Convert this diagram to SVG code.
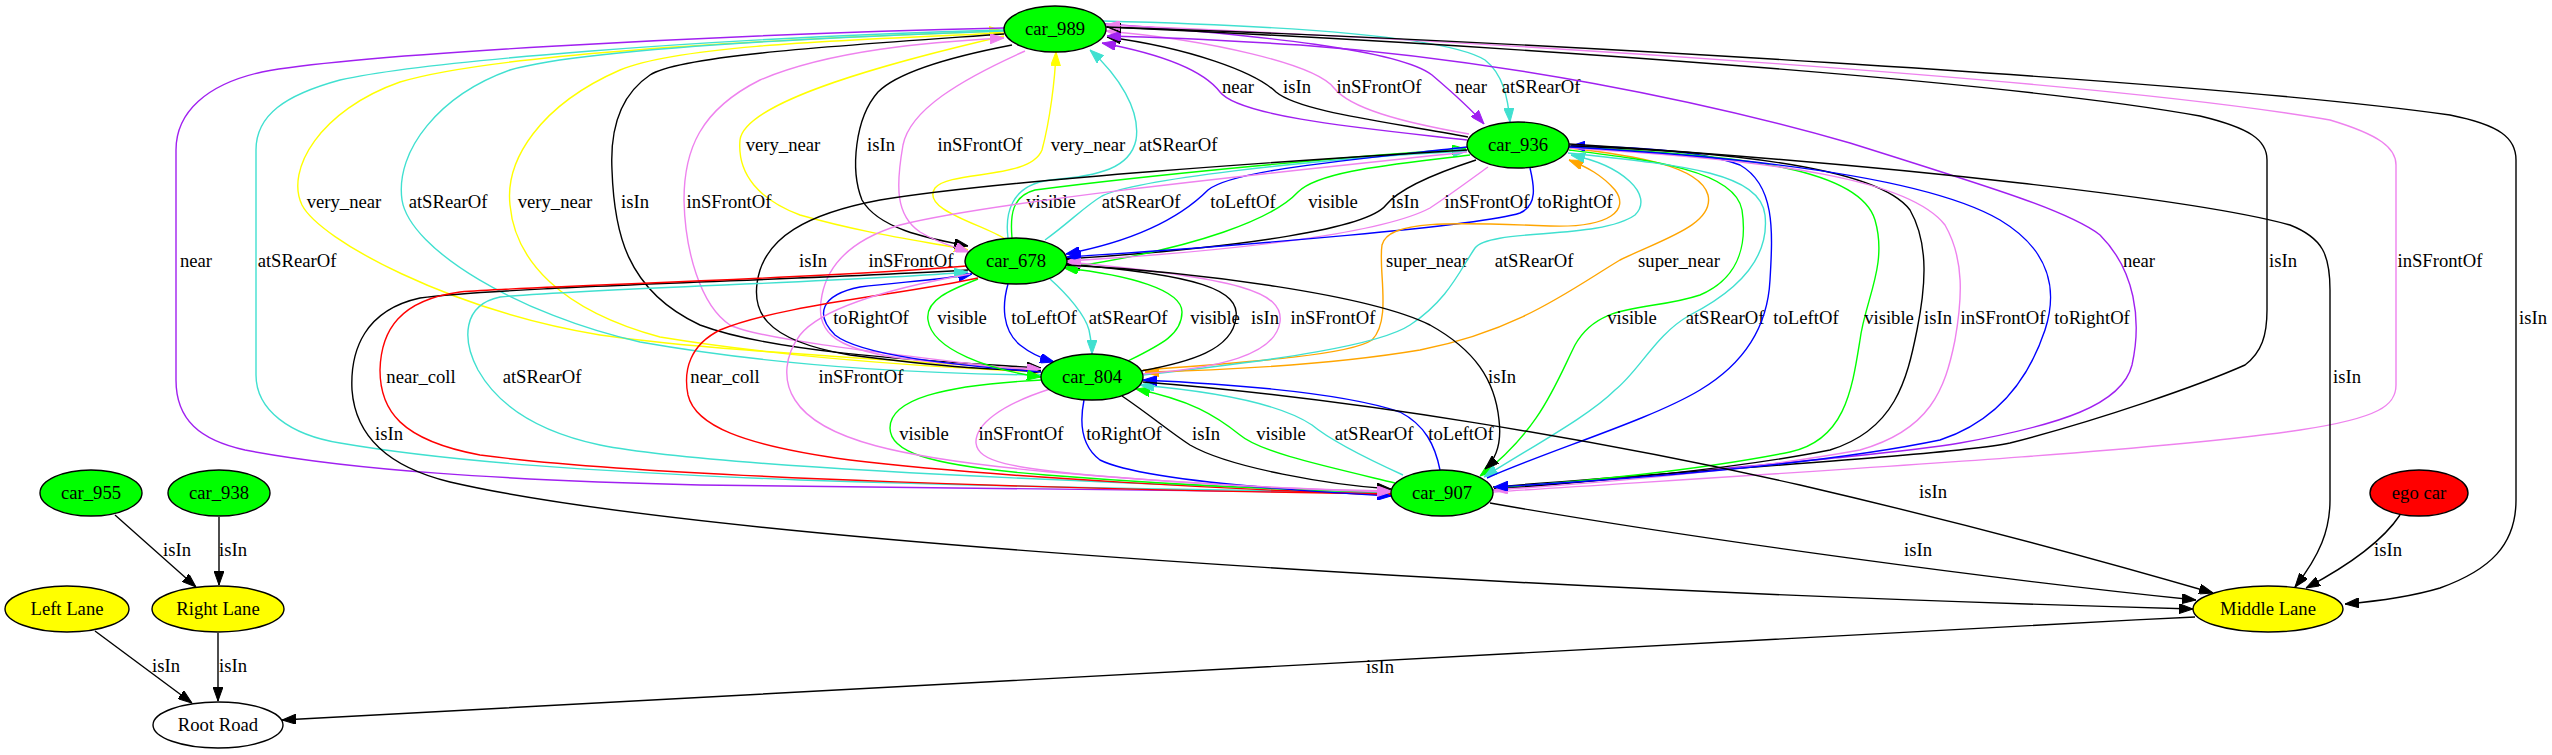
<svg xmlns="http://www.w3.org/2000/svg" width="2552" height="755" viewBox="0 0 2552 755">
<style>
.c path{fill:none;stroke-width:1.4}
path.k{stroke:#000;marker-end:url(#ak)}
path.p{stroke:#a020f0;marker-end:url(#ap)}
path.t{stroke:#40e0d0;marker-end:url(#at)}
path.v{stroke:#ee82ee;marker-end:url(#av)}
path.y{stroke:#ffff00;marker-end:url(#ay)}
path.g{stroke:#00ff00;marker-end:url(#ag)}
path.b{stroke:#0000ff;marker-end:url(#ab)}
path.r{stroke:#ff0000;marker-end:url(#ar)}
path.o{stroke:#ffa500;marker-end:url(#ao)}
text{font-family:"Liberation Serif","Times New Roman",serif;font-size:18.67px;text-anchor:middle;fill:#000}
.n ellipse{stroke:#000;stroke-width:1.4}
</style>
<defs>
<marker id="ak" viewBox="0 0 14 10" refX="14" refY="5" markerWidth="14" markerHeight="10" markerUnits="userSpaceOnUse" orient="auto"><path d="M0,0L14,5L0,10z" fill="#000" stroke="#000"/></marker>
<marker id="ap" viewBox="0 0 14 10" refX="14" refY="5" markerWidth="14" markerHeight="10" markerUnits="userSpaceOnUse" orient="auto"><path d="M0,0L14,5L0,10z" fill="#a020f0" stroke="#a020f0"/></marker>
<marker id="at" viewBox="0 0 14 10" refX="14" refY="5" markerWidth="14" markerHeight="10" markerUnits="userSpaceOnUse" orient="auto"><path d="M0,0L14,5L0,10z" fill="#40e0d0" stroke="#40e0d0"/></marker>
<marker id="av" viewBox="0 0 14 10" refX="14" refY="5" markerWidth="14" markerHeight="10" markerUnits="userSpaceOnUse" orient="auto"><path d="M0,0L14,5L0,10z" fill="#ee82ee" stroke="#ee82ee"/></marker>
<marker id="ay" viewBox="0 0 14 10" refX="14" refY="5" markerWidth="14" markerHeight="10" markerUnits="userSpaceOnUse" orient="auto"><path d="M0,0L14,5L0,10z" fill="#ffff00" stroke="#ffff00"/></marker>
<marker id="ag" viewBox="0 0 14 10" refX="14" refY="5" markerWidth="14" markerHeight="10" markerUnits="userSpaceOnUse" orient="auto"><path d="M0,0L14,5L0,10z" fill="#00ff00" stroke="#00ff00"/></marker>
<marker id="ab" viewBox="0 0 14 10" refX="14" refY="5" markerWidth="14" markerHeight="10" markerUnits="userSpaceOnUse" orient="auto"><path d="M0,0L14,5L0,10z" fill="#0000ff" stroke="#0000ff"/></marker>
<marker id="ar" viewBox="0 0 14 10" refX="14" refY="5" markerWidth="14" markerHeight="10" markerUnits="userSpaceOnUse" orient="auto"><path d="M0,0L14,5L0,10z" fill="#ff0000" stroke="#ff0000"/></marker>
<marker id="ao" viewBox="0 0 14 10" refX="14" refY="5" markerWidth="14" markerHeight="10" markerUnits="userSpaceOnUse" orient="auto"><path d="M0,0L14,5L0,10z" fill="#ffa500" stroke="#ffa500"/></marker>
</defs>
<rect width="2552" height="755" fill="#fff"/>
<g id="connectors" class="c">
<g><path class="p" d="M1467,140 C1380,130 1240,118 1220,92 C1200,66 1150,52 1102,43"/><text x="1238" y="93">near</text></g>
<g><path class="k" d="M1468,137 C1390,122 1300,112 1276,92 C1255,72 1190,48 1107,37"/><text x="1297" y="93">isIn</text></g>
<g><path class="v" d="M1469,134 C1400,122 1350,108 1334,88 C1315,64 1210,40 1106,31"/><text x="1379" y="93">inSFrontOf</text></g>
<g><path class="p" d="M1105,24 C1260,35 1400,50 1432,75 C1452,92 1470,108 1484,124"/><text x="1471" y="93">near</text></g>
<g><path class="t" d="M1103,21 C1300,26 1450,38 1485,60 C1503,74 1508,98 1510,122"/><text x="1541" y="93">atSRearOf</text></g>
<g><path class="y" d="M1004,36 C900,60 745,100 740,140 C737,175 760,200 800,215 C870,235 930,242 968,250"/><text x="783" y="151">very_near</text></g>
<g><path class="k" d="M1012,45 C960,55 900,70 878,92 C855,118 850,170 862,200 C878,228 925,238 968,246"/><text x="881" y="151">isIn</text></g>
<g><path class="v" d="M1025,51 C960,80 910,110 903,145 C896,185 895,215 920,232 C940,244 955,247 969,252"/><text x="980" y="151">inSFrontOf</text></g>
<g><path class="y" d="M1005,239 C985,225 920,210 935,188 C950,170 1030,180 1042,150 C1050,120 1055,80 1056,52"/><text x="1088" y="151">very_near</text></g>
<g><path class="t" d="M1008,238 C1005,215 1010,185 1050,180 C1100,176 1130,168 1136,140 C1141,110 1118,75 1090,50"/><text x="1178" y="151">atSRearOf</text></g>
<g><path class="y" d="M1041,370 C900,360 700,350 600,335 C450,310 320,240 302,205 C285,170 320,110 400,82 C500,52 800,38 1003,31"/><text x="344" y="208">very_near</text></g>
<g><path class="t" d="M1004,31 C800,38 580,50 510,70 C440,95 395,150 402,200 C410,250 520,315 640,342 C800,370 950,374 1041,375"/><text x="448" y="208">atSRearOf</text></g>
<g><path class="y" d="M1004,33 C850,40 680,45 620,70 C540,105 505,160 510,205 C515,260 560,310 660,337 C800,360 950,368 1041,372"/><text x="555" y="208">very_near</text></g>
<g><path class="k" d="M1004,34 C850,45 680,55 650,75 C620,95 610,130 612,170 C614,230 625,290 700,325 C780,355 950,362 1041,368"/><text x="635" y="208">isIn</text></g>
<g><path class="v" d="M1041,372 C900,355 760,340 730,325 C700,305 685,250 684,200 C684,150 700,110 760,80 C830,50 930,42 1004,38"/><text x="729" y="208">inSFrontOf</text></g>
<g><path class="p" d="M1004,28 C700,35 350,55 262,72 C207,84 176,112 176,150 L176,380 C176,420 200,440 245,450 C350,470 500,480 700,485 C1000,490 1250,492 1391,493"/><text x="196" y="267">near</text></g>
<g><path class="t" d="M1004,30 C700,38 420,62 340,80 C285,95 256,115 256,150 L256,375 C256,410 290,435 340,443 C450,462 600,472 800,480 C1050,488 1250,491 1391,492"/><text x="297" y="267">atSRearOf</text></g>
<g><path class="p" d="M1493,490 C1700,470 1890,455 1960,443 C2060,425 2122,405 2132,365 C2142,320 2135,270 2100,235 C2070,212 2000,190 1850,143 C1700,100 1500,60 1300,45 C1220,40 1150,37 1107,36"/><text x="2139" y="267">near</text></g>
<g><path class="k" d="M1493,487 C1700,470 1950,455 2010,443 C2100,420 2200,385 2245,365 C2262,352 2267,335 2267,310 L2267,160 C2267,140 2250,128 2200,116 C2000,80 1500,45 1107,27"/><text x="2283" y="267">isIn</text></g>
<g><path class="v" d="M1493,492 C1800,472 2150,452 2300,430 C2380,418 2396,405 2396,385 L2396,165 C2396,148 2380,135 2330,120 C2100,80 1500,42 1106,25"/><text x="2440" y="267">inSFrontOf</text></g>
<g><path class="k" d="M1106,27 C1500,40 2200,80 2450,115 C2500,125 2516,138 2516,160 L2516,500 C2516,545 2490,570 2440,588 C2410,597 2380,601 2345,604"/><text x="2533" y="324">isIn</text></g>
<g><path class="g" d="M1012,238 C1010,215 1012,196 1035,190 C1150,175 1350,156 1466,149"/><text x="1051" y="208">visible</text></g>
<g><path class="t" d="M1045,240 C1070,222 1085,206 1102,196 C1135,180 1300,160 1467,151"/><text x="1141" y="208">atSRearOf</text></g>
<g><path class="k" d="M1476,160 C1430,175 1398,190 1386,205 C1368,228 1250,247 1066,259"/><text x="1405" y="208">isIn</text></g>
<g><path class="b" d="M1467,147 C1350,160 1232,170 1208,190 C1188,210 1150,238 1066,254"/><text x="1243" y="208">toLeftOf</text></g>
<g><path class="g" d="M1470,155 C1400,164 1320,170 1298,192 C1274,218 1200,248 1065,268"/><text x="1333" y="208">visible</text></g>
<g><path class="v" d="M1488,167 C1470,180 1450,195 1430,208 C1385,232 1250,250 1067,261"/><text x="1487" y="208">inSFrontOf</text></g>
<g><path class="b" d="M1530,168 C1534,185 1538,205 1520,213 C1480,226 1250,245 1067,257"/><text x="1575" y="208">toRightOf</text></g>
<g><path class="k" d="M1467,150 C1300,160 1000,180 880,200 C800,215 770,240 760,270 C748,310 762,340 850,355 C950,368 1000,370 1041,371"/><text x="813" y="267">isIn</text></g>
<g><path class="v" d="M1467,152 C1300,170 1000,200 900,225 C850,240 828,265 822,295 C815,330 830,348 900,358 C960,366 1010,368 1041,369"/><text x="911" y="267">inSFrontOf</text></g>
<g><path class="o" d="M1143,370 C1250,362 1350,355 1372,340 C1392,320 1378,270 1382,245 C1388,220 1450,222 1550,226 C1610,228 1630,210 1615,190 C1602,175 1587,167 1569,160"/><text x="1427" y="267">super_near</text></g>
<g><path class="t" d="M1143,375 C1280,360 1380,345 1410,325 C1448,300 1460,270 1475,248 C1490,228 1600,240 1635,215 C1655,195 1622,165 1571,155"/><text x="1534" y="267">atSRearOf</text></g>
<g><path class="o" d="M1569,148 C1630,155 1700,165 1708,195 C1715,225 1660,240 1620,260 C1570,290 1520,330 1420,350 C1330,365 1230,370 1145,372"/><text x="1679" y="267">super_near</text></g>
<g><path class="g" d="M1569,150 C1650,160 1735,170 1742,210 C1748,250 1735,280 1700,295 C1650,312 1600,300 1575,345 C1555,385 1540,430 1480,476"/><text x="1632" y="324">visible</text></g>
<g><path class="t" d="M1568,153 C1680,165 1760,172 1765,215 C1770,260 1735,292 1690,315 C1655,335 1640,370 1615,390 C1590,415 1540,442 1484,477"/><text x="1725" y="324">atSRearOf</text></g>
<g><path class="b" d="M1487,478 C1550,450 1650,420 1700,390 C1750,360 1768,320 1770,280 C1773,230 1775,185 1740,165 C1700,150 1630,147 1571,146"/><text x="1806" y="324">toLeftOf</text></g>
<g><path class="g" d="M1569,147 C1750,155 1860,170 1875,220 C1888,265 1865,300 1860,340 C1852,390 1845,440 1790,452 C1700,470 1580,482 1494,488"/><text x="1889" y="324">visible</text></g>
<g><path class="k" d="M1569,146 C1750,152 1880,170 1910,210 C1930,245 1925,290 1917,330 C1907,380 1895,430 1830,450 C1730,470 1590,482 1494,489"/><text x="1938" y="324">isIn</text></g>
<g><path class="v" d="M1569,148 C1780,160 1910,180 1945,225 C1965,260 1962,300 1955,340 C1945,390 1930,430 1860,450 C1750,470 1600,483 1494,490"/><text x="2003" y="324">inSFrontOf</text></g>
<g><path class="b" d="M1569,147 C1800,160 1940,185 2000,220 C2050,250 2058,290 2045,330 C2030,375 2000,420 1940,440 C1820,465 1620,480 1494,487"/><text x="2092" y="324">toRightOf</text></g>
<g><path class="k" d="M1569,144 C1900,165 2200,200 2290,225 C2323,238 2330,255 2330,290 L2330,500 C2330,530 2320,555 2295,587"/><text x="2347" y="383">isIn</text></g>
<g><path class="b" d="M1041,372 C950,365 860,355 835,335 C815,315 820,295 860,287 C900,282 940,280 972,274"/><text x="871" y="324">toRightOf</text></g>
<g><path class="g" d="M978,279 C950,290 925,300 928,320 C932,350 990,370 1041,377"/><text x="962" y="324">visible</text></g>
<g><path class="b" d="M1008,284 C1002,305 1002,330 1020,345 C1030,353 1040,358 1054,362"/><text x="1044" y="324">toLeftOf</text></g>
<g><path class="t" d="M1050,279 C1068,295 1085,315 1089,330 C1091,340 1092,348 1092,354"/><text x="1128" y="324">atSRearOf</text></g>
<g><path class="k" d="M1141,371 C1190,362 1232,350 1236,318 C1240,290 1200,275 1066,264"/><text x="1265" y="324">isIn</text></g>
<g><path class="g" d="M1126,362 C1160,345 1182,335 1182,312 C1182,290 1130,275 1064,268"/><text x="1215" y="324">visible</text></g>
<g><path class="v" d="M1142,374 C1220,368 1275,355 1280,322 C1284,292 1240,278 1067,262"/><text x="1333" y="324">inSFrontOf</text></g>
<g><path class="k" d="M968,270 C800,280 500,287 420,298 C365,310 350,350 352,390 C355,430 380,465 450,482 C700,540 1500,590 2193,609"/><text x="389" y="440">isIn</text></g>
<g><path class="r" d="M966,266 C800,280 550,285 460,292 C400,300 381,330 380,370 C380,410 400,440 480,455 C650,478 1100,490 1391,494"/><text x="421" y="383">near_coll</text></g>
<g><path class="t" d="M1391,492 C1000,480 700,465 600,445 C530,430 495,400 478,370 C462,340 462,305 500,297 C600,288 850,282 968,272"/><text x="542" y="383">atSRearOf</text></g>
<g><path class="r" d="M978,278 C900,295 780,305 720,330 C690,345 683,370 688,395 C695,425 740,445 850,460 C1000,478 1250,490 1391,495"/><text x="725" y="383">near_coll</text></g>
<g><path class="k" d="M1066,265 C1200,272 1370,295 1430,325 C1475,350 1495,380 1499,420 C1502,445 1495,460 1485,469"/><text x="1502" y="383">isIn</text></g>
<g><path class="g" d="M1042,380 C940,385 890,400 890,428 C890,450 920,465 1046,475 C1200,487 1330,491 1391,492"/><text x="924" y="440">visible</text></g>
<g><path class="k" d="M1122,396 C1150,415 1170,432 1190,445 C1230,468 1330,485 1391,489"/><text x="1206" y="440">isIn</text></g>
<g><path class="v" d="M1050,389 C1000,405 975,425 976,443 C978,462 1010,468 1100,476 C1220,486 1330,490 1391,491"/><text x="1021" y="440">inSFrontOf</text></g>
<g><path class="b" d="M1084,400 C1080,420 1080,445 1100,460 C1140,480 1280,490 1391,496"/><text x="1124" y="440">toRightOf</text></g>
<g><path class="v" d="M970,274 C880,290 820,310 800,335 C785,355 782,380 795,400 C820,440 900,458 1050,472 C1200,485 1320,490 1391,492"/><text x="861" y="383">inSFrontOf</text></g>
<g><path class="g" d="M1395,483 C1320,465 1260,452 1240,435 C1215,415 1190,400 1136,389"/><text x="1281" y="440">visible</text></g>
<g><path class="t" d="M1403,475 C1370,460 1330,440 1312,425 C1282,405 1220,392 1140,385"/><text x="1374" y="440">atSRearOf</text></g>
<g><path class="b" d="M1440,470 C1435,445 1425,425 1400,412 C1350,395 1250,385 1143,380"/><text x="1461" y="440">toLeftOf</text></g>
<g><path class="k" d="M1143,382 C1350,398 1600,440 1800,485 C1950,520 2100,560 2213,593"/><text x="1933" y="498">isIn</text></g>
<g><path class="k" d="M1490,503 C1700,540 2000,580 2196,600"/><text x="1918" y="556">isIn</text></g>
<g><path class="k" d="M2400,515 C2380,545 2340,570 2306,588"/><text x="2388" y="556">isIn</text></g>
<g><path class="k" d="M2195,617 C1500,650 800,690 282,720"/><text x="1380" y="673">isIn</text></g>
<g><path class="k" d="M115,515 L196,587"/><text x="177" y="556">isIn</text></g>
<g><path class="k" d="M219,517 L219,585"/><text x="233" y="556">isIn</text></g>
<g><path class="k" d="M95,631 L192,703"/><text x="166" y="672">isIn</text></g>
<g><path class="k" d="M218,633 L218,701"/><text x="233" y="672">isIn</text></g>
</g>
<g id="nodes" class="n">
<g id="car_989"><ellipse cx="1055" cy="29" rx="51" ry="23" fill="#00ff00"/><text x="1055" y="35">car_989</text></g>
<g id="car_936"><ellipse cx="1518" cy="145" rx="51" ry="23" fill="#00ff00"/><text x="1518" y="151">car_936</text></g>
<g id="car_678"><ellipse cx="1016" cy="261" rx="51" ry="23" fill="#00ff00"/><text x="1016" y="267">car_678</text></g>
<g id="car_804"><ellipse cx="1092" cy="377" rx="51" ry="23" fill="#00ff00"/><text x="1092" y="383">car_804</text></g>
<g id="car_907"><ellipse cx="1442" cy="493" rx="51" ry="23" fill="#00ff00"/><text x="1442" y="499">car_907</text></g>
<g id="car_955"><ellipse cx="91" cy="493" rx="51" ry="23" fill="#00ff00"/><text x="91" y="499">car_955</text></g>
<g id="car_938"><ellipse cx="219" cy="493" rx="51" ry="23" fill="#00ff00"/><text x="219" y="499">car_938</text></g>
<g id="ego_car"><ellipse cx="2419" cy="493" rx="49" ry="23" fill="#ff0000"/><text x="2419" y="499">ego car</text></g>
<g id="left_lane"><ellipse cx="67" cy="609" rx="62" ry="23" fill="#ffff00"/><text x="67" y="615">Left Lane</text></g>
<g id="right_lane"><ellipse cx="218" cy="609" rx="66" ry="23" fill="#ffff00"/><text x="218" y="615">Right Lane</text></g>
<g id="middle_lane"><ellipse cx="2268" cy="609" rx="75" ry="23" fill="#ffff00"/><text x="2268" y="615">Middle Lane</text></g>
<g id="root_road"><ellipse cx="218" cy="725" rx="65" ry="23" fill="#ffffff"/><text x="218" y="731">Root Road</text></g>
</g>
</svg>
